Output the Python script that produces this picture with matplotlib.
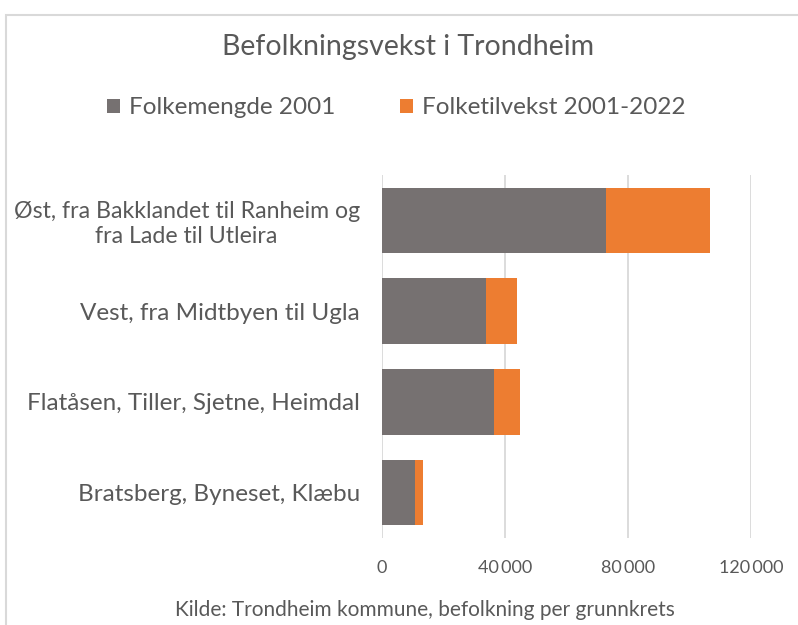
import matplotlib
matplotlib.use("Agg")
import matplotlib.pyplot as plt
from matplotlib.patches import Rectangle
from matplotlib.ticker import FuncFormatter

plt.rcParams["font.family"] = ["Lato", "DejaVu Sans"]

categories = [
    "Øst, fra Bakklandet til Ranheim og\nfra Lade til Utleira",
    "Vest, fra Midtbyen til Ugla",
    "Flatåsen, Tiller, Sjetne, Heimdal",
    "Bratsberg, Byneset, Klæbu",
]
folkemengde_2001 = [73000, 33700, 36300, 10800]
folketilvekst = [33700, 10300, 8500, 2500]
x_ticks = [0, 40000, 80000, 120000]

GRAY = "#767171"
ORANGE = "#ED7D31"
TEXT = "#595959"

fig = plt.figure(figsize=(7.98, 6.25), dpi=100)
W, H = 798, 625
ax = fig.add_axes([382 / W, 1 - 538 / H, (751 - 382) / W, (538 - 175) / H])

y = list(range(len(categories)))[::-1]
ax.barh(y, folkemengde_2001, height=0.72, color=GRAY, label="Folkemengde 2001")
ax.barh(y, folketilvekst, left=folkemengde_2001, height=0.72, color=ORANGE,
        label="Folketilvekst 2001-2022")

ax.set_xlim(0, 120000)
ax.set_ylim(-0.5, len(categories) - 0.5)
ax.set_xticks(x_ticks)
ax.xaxis.set_major_formatter(FuncFormatter(lambda v, p: f"{int(v):,}".replace(",", "\u2009")))
ax.set_yticks(y)
ax.set_yticklabels(categories, fontsize=17.5, color=TEXT, linespacing=1.22,
                   multialignment="center")
# the long two-line label is a touch narrower in the original
ax.get_yticklabels()[0].set_fontsize(16.7)
ax.tick_params(axis="x", labelsize=13, colors=TEXT, length=0, pad=16)
ax.tick_params(axis="y", length=0, pad=16)

ax.grid(axis="x", color="#D9D9D9", linewidth=1.3)
ax.set_axisbelow(True)
for s in ax.spines.values():
    s.set_visible(False)

fig.text(408 / W, 1 - 47 / H, "Befolkningsvekst i Trondheim", ha="center", va="center",
         fontsize=20.5, color=TEXT)
handles, labels = ax.get_legend_handles_labels()
fig.legend(handles, labels, loc="center", bbox_to_anchor=(396 / W, 1 - 108 / H), ncol=2,
           frameon=False, fontsize=17.5, labelcolor=TEXT, handlelength=0.55, handleheight=0.55,
           handletextpad=0.35, columnspacing=2.67)
fig.text(425 / W, 1 - 610 / H, "Kilde: Trondheim kommune, befolkning per grunnkrets",
         ha="center", va="center", fontsize=15, color=TEXT)

fig.patches.append(Rectangle((6 / W, -0.1), 1.2, 1 - 15 / H + 0.1, transform=fig.transFigure,
                             fill=False, edgecolor="#D9D9D9", linewidth=1.5))

fig.savefig("out.png", dpi=100)
